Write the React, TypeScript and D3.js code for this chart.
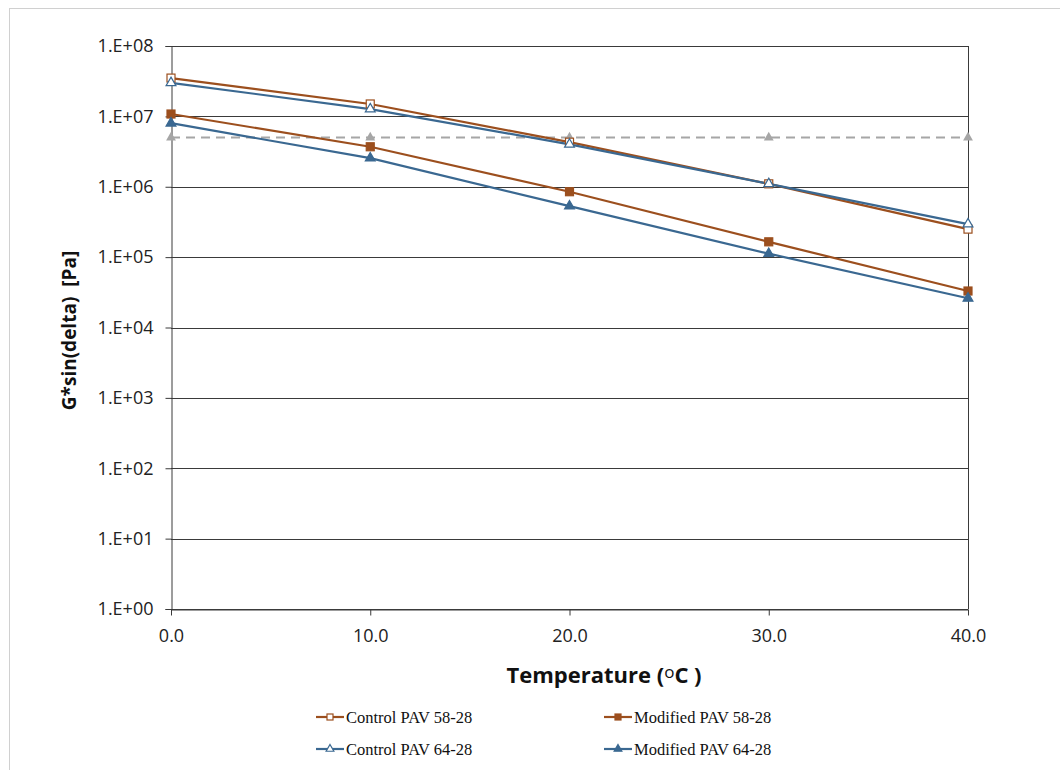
import React, { useRef, useEffect } from 'react';
import * as d3 from 'd3';

// temperatures (°C)
const temps = [0, 10, 20, 30, 40];

// G*sin(delta) [Pa]
const controlPav5828 = [3.5e7, 1.5e7, 4.3e6, 1.1e6, 2.5e5];
const modifiedPav5828 = [1.08e7, 3.7e6, 8.5e5, 1.65e5, 3.3e4];
const controlPav6428 = [3.0e7, 1.27e7, 4.0e6, 1.1e6, 2.95e5];
const modifiedPav6428 = [8.0e6, 2.55e6, 5.3e5, 1.12e5, 2.6e4];
// criterion line (5 MPa)
const limitValues = [5e6, 5e6, 5e6, 5e6, 5e6];

const xTicks = [0, 10, 20, 30, 40];
const yTicks = [1e0, 1e1, 1e2, 1e3, 1e4, 1e5, 1e6, 1e7, 1e8];

const BROWN = '#9c4f1e';
const BLUE = '#3a6891';
const GRAY = '#a6a6a6';

const series = [
  { name: 'Control PAV 58-28', values: controlPav5828, color: BROWN, marker: 'square', filled: false },
  { name: 'Modified PAV 58-28', values: modifiedPav5828, color: BROWN, marker: 'square', filled: true },
  { name: 'Control PAV 64-28', values: controlPav6428, color: BLUE, marker: 'triangle', filled: false },
  { name: 'Modified PAV 64-28', values: modifiedPav6428, color: BLUE, marker: 'triangle', filled: true },
];

export default function App() {
  const svgRef = useRef<SVGSVGElement>(null);
  const width = 1060;
  const height = 770;
  const margin = { top: 46, right: 92, bottom: 161, left: 171 };

  useEffect(() => {
    const svg = d3.select(svgRef.current);
    svg.selectAll('*').remove();

    const x = d3.scaleLinear()
      .domain([0, 40])
      .range([margin.left, width - margin.right]);

    const y = d3.scaleLog()
      .domain([1, 1e8])
      .range([height - margin.bottom, margin.top]);

    const axisFont = '"Open Sans", sans-serif';

    // chart area border
    svg.append('rect')
      .attr('x', 9.5).attr('y', 8.5)
      .attr('width', 1100).attr('height', 800)
      .attr('fill', 'white')
      .attr('stroke', '#d0d0d0');

    // horizontal gridlines
    svg.append('g')
      .selectAll('line')
      .data(yTicks)
      .join('line')
      .attr('x1', margin.left)
      .attr('x2', width - margin.right)
      .attr('y1', d => Math.round(y(d)) + 0.5)
      .attr('y2', d => Math.round(y(d)) + 0.5)
      .attr('stroke', '#3a3a3a')
      .attr('stroke-width', 1);

    // right border of plot
    svg.append('line')
      .attr('x1', Math.round(x(40)) + 0.5).attr('x2', Math.round(x(40)) + 0.5)
      .attr('y1', margin.top).attr('y2', height - margin.bottom)
      .attr('stroke', '#3a3a3a');

    // y axis
    svg.append('g')
      .attr('transform', `translate(${margin.left + 0.5},0)`)
      .call(
        d3.axisLeft(y)
          .tickValues(yTicks)
          .tickSize(6)
          .tickPadding(12)
          .tickFormat(d => '1.E+' + String(Math.round(Math.log10(d as number))).padStart(2, '0'))
      )
      .call(g => g.select('.domain').attr('stroke', '#3a3a3a'))
      .call(g => g.selectAll('.tick line').attr('stroke', '#3a3a3a'))
      .call(g => g.selectAll('.tick text')
        .attr('font-size', 18)
        .attr('font-family', axisFont)
        .attr('fill', '#222'));

    // x axis
    svg.append('g')
      .attr('transform', `translate(0,${height - margin.bottom + 0.5})`)
      .call(
        d3.axisBottom(x)
          .tickValues(xTicks)
          .tickSize(6)
          .tickPadding(14)
          .tickSizeOuter(0)
          .tickFormat(d => (d as number).toFixed(1))
      )
      .call(g => g.select('.domain').attr('stroke', '#3a3a3a'))
      .call(g => g.selectAll('.tick line').attr('stroke', '#3a3a3a'))
      .call(g => g.selectAll('.tick text')
        .attr('font-size', 18)
        .attr('font-family', axisFont)
        .attr('fill', '#222'));

    // axis titles
    const xTitle = svg.append('text')
      .attr('x', 604)
      .attr('y', 683)
      .attr('text-anchor', 'middle')
      .attr('font-size', 22)
      .attr('font-weight', 'bold')
      .attr('font-family', axisFont)
      .attr('fill', '#111');
    xTitle.append('tspan').text('Temperature (');
    xTitle.append('tspan').attr('font-size', 17).attr('font-weight', 'normal').attr('dy', -5).text('o');
    xTitle.append('tspan').attr('dy', 5).text('C )');

    svg.append('text')
      .attr('transform', `translate(76,${(margin.top + height - margin.bottom) / 2 + 3}) rotate(-90)`)
      .attr('text-anchor', 'middle')
      .attr('font-size', 19)
      .attr('font-weight', 'bold')
      .attr('font-family', axisFont)
      .attr('fill', '#111')
      .attr('xml:space', 'preserve')
      .text('G*sin(delta)  [Pa]');

    const line = d3.line<number>()
      .x((d, i) => x(temps[i]))
      .y(d => y(d));

    const tri = d3.symbol().type(d3.symbolTriangle).size(42);
    const triSmall = d3.symbol().type(d3.symbolTriangle).size(26);

    // criterion dashed line
    svg.append('path')
      .datum(limitValues)
      .attr('fill', 'none')
      .attr('stroke', GRAY)
      .attr('stroke-width', 2)
      .attr('stroke-dasharray', '9,6')
      .attr('d', line);

    svg.append('g')
      .selectAll('path')
      .data(limitValues)
      .join('path')
      .attr('transform', (d, i) => `translate(${x(temps[i])},${y(d)})`)
      .attr('d', tri)
      .attr('fill', GRAY);

    const drawMarker = (g: any, s: any, cx: number, cy: number, small = false) => {
      const half = small ? 3 : 4;
      if (s.marker === 'square') {
        g.append('rect')
          .attr('x', cx - half).attr('y', cy - half)
          .attr('width', half * 2).attr('height', half * 2)
          .attr('fill', s.filled ? s.color : 'white')
          .attr('stroke', s.color)
          .attr('stroke-width', 1.2);
      } else {
        g.append('path')
          .attr('transform', `translate(${cx},${cy})`)
          .attr('d', small ? triSmall : tri)
          .attr('fill', s.filled ? s.color : 'white')
          .attr('stroke', s.color)
          .attr('stroke-width', 1.2);
      }
    };

    // series
    series.forEach(s => {
      svg.append('path')
        .datum(s.values)
        .attr('fill', 'none')
        .attr('stroke', s.color)
        .attr('stroke-width', 2.2)
        .attr('d', line);
    });
    series.forEach(s => {
      const g = svg.append('g');
      s.values.forEach((v, i) => drawMarker(g, s, x(temps[i]), y(v)));
    });

    // legend
    const legendX = [316, 604];
    const legendY = [717, 749];
    series.forEach((s, k) => {
      const lx = legendX[k % 2];
      const ly = legendY[Math.floor(k / 2)];
      const g = svg.append('g');
      g.append('line')
        .attr('x1', lx).attr('x2', lx + 28)
        .attr('y1', ly).attr('y2', ly)
        .attr('stroke', s.color)
        .attr('stroke-width', 2.2);
      drawMarker(g, s, lx + 14, ly, true);
      g.append('text')
        .attr('x', lx + 30)
        .attr('y', ly)
        .attr('dy', '0.35em')
        .attr('font-size', 16.5)
        .attr('font-family', '"Liberation Serif", serif')
        .attr('fill', '#111')
        .text(s.name);
    });
  }, []);

  return (
    <svg
      ref={svgRef}
      width={width}
      height={height}
      style={{ position: 'absolute', left: 0, top: 0, background: 'white' }}
    />
  );
}
